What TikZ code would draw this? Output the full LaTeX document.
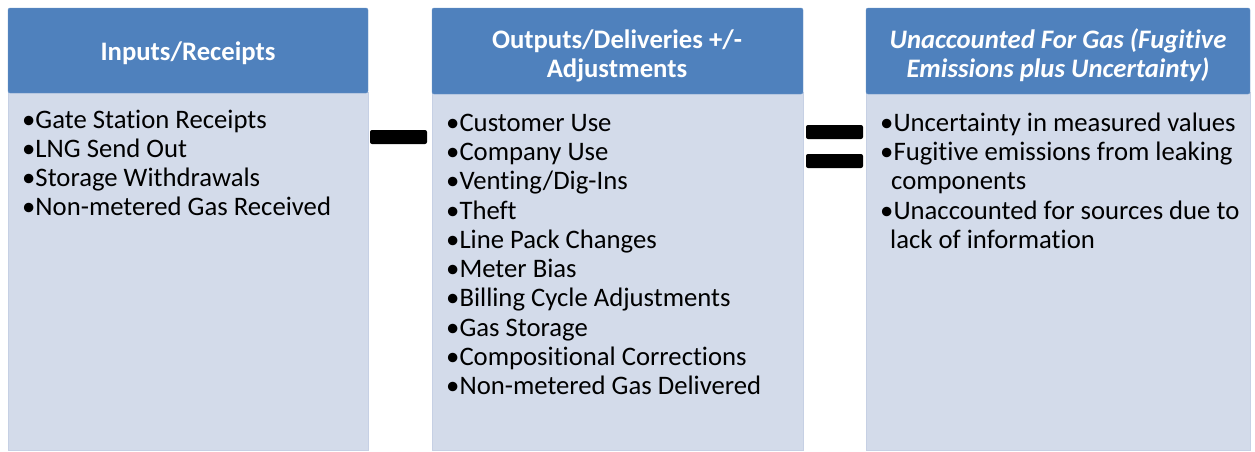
\documentclass[tikz,border=0pt]{standalone}
\usepackage{fontspec}
\setmainfont[Ligatures=NoCommon]{Carlito}
\definecolor{headblue}{HTML}{4F81BD}
\definecolor{bodyfill}{HTML}{D3DBEA}
\definecolor{bodyedge}{HTML}{C6D0E4}

\tikzset{
  header/.style={fill=headblue,draw=headblue!85!white,rounded corners=2pt},
  body/.style={fill=bodyfill,draw=bodyedge,line width=1pt},
  bar/.style={fill=black,rounded corners=2pt},
  headtext/.style={text=white,font=\fontsize{26.7}{28}\selectfont\bfseries,anchor=base,inner sep=0pt},
  item/.style={font=\fontsize{26.7}{29}\selectfont,anchor=base west,inner sep=0pt}
}

\begin{document}
\begin{tikzpicture}[x=1pt,y=-1pt]
  \useasboundingbox (0,0) rectangle (1255,451);
  % three columns: light body with blue header on top
  \draw[body] (8,92) rectangle (368,450);
  \draw[body] (432,92) rectangle (803,450);
  \draw[body] (866,92) rectangle (1250,450);
  \draw[header] (8,8) rectangle (368,93);
  \draw[header] (432,8) rectangle (803,94);
  \draw[header] (866,8) rectangle (1250,94);
  % minus and equals
  \fill[bar] (370,130) rectangle (427,144);
  \fill[bar] (806,125) rectangle (863,139);
  \fill[bar] (806,154) rectangle (863,168);
  % headings
  \node[headtext] (inhead) at (188,60) {Inputs/Receipts};
  \node[headtext] (outheadA) at (617,48) {Outputs/Deliveries +/-};
  \node[headtext] (outheadB) at (617,77) {Adjustments};
  \node[headtext,font=\fontsize{26.7}{28}\selectfont\bfseries\itshape] (ufghead) at (1058,48) {Unaccounted For Gas (Fugitive};
  \node[headtext,font=\fontsize{26.7}{28}\selectfont\bfseries\itshape] (ufgheadB) at (1058,77) {Emissions plus Uncertainty)};
  % inputs
  \node[item] (in1) at (22,128) {•Gate Station Receipts};
  \node[item] (in2) at (22,157) {•LNG Send Out};
  \node[item] (in3) at (22,186) {•Storage Withdrawals};
  \node[item] (in4) at (22,215) {•Non-metered Gas Received};
  % outputs
  \node[item] (out1) at (446,131) {•Customer Use};
  \node[item] (out2) at (446,160) {•Company Use};
  \node[item] (out3) at (446,189) {•Venting/Dig-Ins};
  \node[item] (out4) at (446,219) {•Theft};
  \node[item] (out5) at (446,248) {•Line Pack Changes};
  \node[item] (out6) at (446,277) {•Meter Bias};
  \node[item] (out7) at (446,306) {•Billing Cycle Adjustments};
  \node[item] (out8) at (446,336) {•Gas Storage};
  \node[item] (out9) at (446,365) {•Compositional Corrections};
  \node[item] (out10) at (446,394) {•Non-metered Gas Delivered};
  % unaccounted for gas
  \node[item] (ufg1) at (880,131) {•Uncertainty in measured values};
  \node[item] (ufg2) at (880,160) {•Fugitive emissions from leaking};
  \node[item] (ufg3) at (891,189) {components};
  \node[item] (ufg4) at (880,219) {•Unaccounted for sources due to};
  \node[item] (ufg5) at (890,248) {lack of information};
\end{tikzpicture}
\end{document}
